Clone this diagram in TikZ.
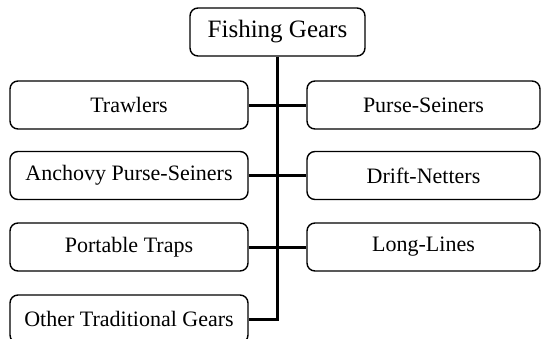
\documentclass[tikz,border=0pt]{standalone}
\usepackage{fontspec}
\setmainfont{Liberation Serif}
\begin{document}
\begin{tikzpicture}[x=1pt,y=-1pt,
  gearbox/.style={draw, line width=1.4pt, rounded corners=8pt, minimum height=48pt, inner sep=0pt, font=\fontsize{22}{24}\selectfont},
  topbox/.style={gearbox, minimum width=175pt, font=\fontsize{25}{28}\selectfont},
  leftbox/.style={gearbox, minimum width=238pt},
  rightbox/.style={gearbox, minimum width=233pt},
  link/.style={line width=3pt}]
\useasboundingbox (0,0) rectangle (541,338);
\node[topbox] (top) at (277.5,32) {Fishing Gears};
\node[leftbox] (l1) at (129,105) {Trawlers};
\node[rightbox] (r1) at (423.5,105) {Purse-Seiners};
\node[leftbox] (l2) at (129,175.5) {Anchovy Purse-Seiners};
\node[rightbox] (r2) at (423.5,175.5) {Drift-Netters};
\node[leftbox] (l3) at (129,247) {Portable Traps};
\node[rightbox] (r3) at (423.5,247) {Long-Lines};
\node[leftbox] (l4) at (129,319) {Other Traditional Gears};
\coordinate (j4) at (top.south |- l4.east);
\draw[link] (top.south) -- (j4) -- (l4.east);
\draw[link] (l1.east) -- (r1.west);
\draw[link] (l2.east) -- (r2.west);
\draw[link] (l3.east) -- (r3.west);
\end{tikzpicture}
\end{document}
